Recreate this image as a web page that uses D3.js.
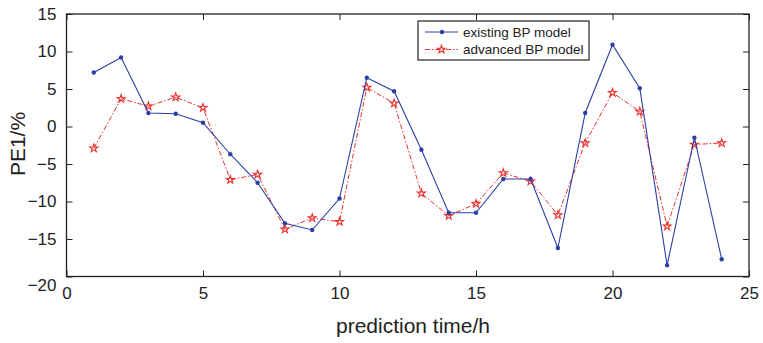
<!DOCTYPE html>
<html><head><meta charset="utf-8">
<script src="https://cdn.jsdelivr.net/npm/d3@7"></script>
<style>
body{margin:0;background:#fff;}
svg{display:block;font-family:"Liberation Sans",Arial,Helvetica,sans-serif;}
</style></head>
<body><svg id="c" width="763" height="343"></svg>
<script>
const hours = [1,2,3,4,5,6,7,8,9,10,11,12,13,14,15,16,17,18,19,20,21,22,23,24];
const existingBP = [7.2,9.2,1.8,1.7,0.5,-3.7,-7.5,-12.9,-13.8,-9.6,6.5,4.7,-3.1,-11.5,-11.5,-7.0,-7.0,-16.2,1.8,10.9,5.1,-18.5,-1.5,-17.7];
const advancedBP = [-2.9,3.7,2.7,3.9,2.5,-7.1,-6.4,-13.7,-12.2,-12.7,5.2,3.1,-8.9,-11.9,-10.3,-6.2,-7.3,-11.8,-2.2,4.5,2.0,-13.3,-2.4,-2.2];
const xTicks = [0,5,10,15,20,25];
const yTicks = [-20,-15,-10,-5,0,5,10,15];
const seriesNames = ["existing BP model","advanced BP model"];

const blue = "#2b3fa6", red = "#e8302c";
const L = 66.5, R = 749, T = 14, B = 276.5;
const svg = d3.select("#c");
const x = d3.scaleLinear().domain([0,25]).range([L,R]);
const y = d3.scaleLinear().domain([-20,15]).range([B,T]);

function styleAxis(g){
  g.select(".domain").remove();
  g.selectAll("line").attr("stroke","#222").attr("stroke-width",1);
  g.selectAll("text").attr("fill","#222").style("font-size","17px");
}
// bottom
svg.append("g").attr("transform",`translate(0,${B})`)
  .call(d3.axisBottom(x).tickValues(xTicks).tickSize(-6).tickPadding(8).tickFormat(d3.format("d")))
  .call(styleAxis).call(g=>g.selectAll("text").attr("dy","0.85em"));
// top
svg.append("g").attr("transform",`translate(0,${T})`)
  .call(d3.axisTop(x).tickValues(xTicks).tickSize(-6).tickFormat(""))
  .call(styleAxis);
// left
svg.append("g").attr("transform",`translate(${L},0)`)
  .call(d3.axisLeft(y).tickValues(yTicks).tickSize(-6).tickPadding(10).tickFormat(d3.format("d")))
  .call(styleAxis)
  .call(g=>g.selectAll(".tick").filter(d=>d===-20).select("text").attr("dy","0.85em").attr("x",-10));
// right
svg.append("g").attr("transform",`translate(${R},0)`)
  .call(d3.axisRight(y).tickValues(yTicks).tickSize(-6).tickFormat(""))
  .call(styleAxis);
// frame
svg.append("rect").attr("x",L).attr("y",T).attr("width",R-L).attr("height",B-T)
  .attr("fill","none").attr("stroke","#222").attr("stroke-width",1.3);

const line = d3.line().x((d,i)=>x(hours[i])).y(d=>y(d));
const star = d3.symbol().type(d3.symbolStar).size(20);

// advanced (red)
svg.append("path").datum(advancedBP).attr("d",line).attr("fill","none")
  .attr("stroke",red).attr("stroke-width",1).attr("stroke-dasharray","5,2,1.5,2");
svg.append("g").selectAll("path").data(advancedBP).join("path")
  .attr("d",star).attr("transform",(d,i)=>`translate(${x(hours[i])},${y(d)})`)
  .attr("fill","none").attr("stroke",red).attr("stroke-width",1.1);
// existing (blue)
svg.append("path").datum(existingBP).attr("d",line).attr("fill","none")
  .attr("stroke",blue).attr("stroke-width",1.1);
svg.append("g").selectAll("circle").data(existingBP).join("circle")
  .attr("cx",(d,i)=>x(hours[i])).attr("cy",d=>y(d)).attr("r",2.2).attr("fill",blue);

// labels
svg.append("text").attr("x",413).attr("y",333).attr("text-anchor","middle")
  .style("font-size","21px").attr("fill","#222").text("prediction time/h");
svg.append("text").attr("transform","translate(25,144) rotate(-90)").attr("text-anchor","middle")
  .style("font-size","21px").attr("fill","#222").text("PE1/%");

// legend
const lg = svg.append("g");
lg.append("rect").attr("x",418).attr("y",21).attr("width",171).attr("height",39)
  .attr("fill","#fff").attr("stroke","#222").attr("stroke-width",1.2);
const rows = [{n:seriesNames[0],c:blue,y:32},{n:seriesNames[1],c:red,y:49.5}];
rows.forEach((r,i)=>{
  lg.append("line").attr("x1",425).attr("x2",458).attr("y1",r.y).attr("y2",r.y)
    .attr("stroke",r.c).attr("stroke-width",1).attr("stroke-dasharray",i? "5,2,1.5,2":null);
  if(i===0) lg.append("circle").attr("cx",442).attr("cy",r.y).attr("r",2.2).attr("fill",blue);
  else lg.append("path").attr("d",star).attr("transform",`translate(441.5,${r.y})`)
    .attr("fill","none").attr("stroke",red).attr("stroke-width",1.1);
  lg.append("text").attr("x",463).attr("y",r.y).attr("dy","0.35em")
    .style("font-size","13.5px").attr("fill","#222").text(r.n);
});
</script></body></html>
